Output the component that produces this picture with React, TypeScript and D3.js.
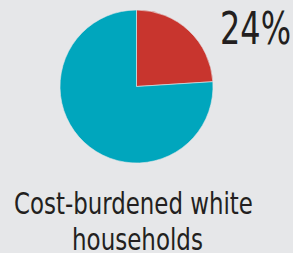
import React, { useLayoutEffect, useRef, useState } from 'react';
import * as d3 from 'd3';

const categories = ['Cost-burdened', 'Not cost-burdened'];
const shares = [24, 76];
const sliceColors = ['#c8352e', '#00a6bd'];
const valueLabel = '24%';
const captionLines = ['Cost-burdened white', 'households'];

const W = 293;
const H = 253;
const bg = '#e6e7e9';
const ink = '#231f20';
const font = '"DejaVu Sans Condensed", "DejaVu Sans", sans-serif';

// text boxes: left x, baseline y, wanted width, font size
const labels = [
    { text: valueLabel, x: 220, y: 44.3, width: 71, size: 44 },
    { text: captionLines[0], x: 14, y: 214, width: 239, size: 30 },
    { text: captionLines[1], x: 72, y: 250, width: 131, size: 30 },
];

const App = () => {
    const cx = 136.5;
    const cy = 86.5;
    const radius = 76.5;

    const refs = useRef<(SVGTextElement | null)[]>([]);
    const [scales, setScales] = useState<number[]>(labels.map(() => 1));

    useLayoutEffect(() => {
        setScales(labels.map((l, i) => {
            const el = refs.current[i];
            const len = el ? el.getComputedTextLength() : 0;
            return len > 0 ? l.width / len : 1;
        }));
    }, []);

    const pie = d3.pie<number>().sort(null).value(d => d);
    const arcs = pie(shares);
    const arc = d3.arc<d3.PieArcDatum<number>>().innerRadius(0).outerRadius(radius);

    return (
        <svg width={W} height={H} style={{ position: 'fixed', left: 0, top: 0, display: 'block' }}>
            <rect x={0} y={0} width={W} height={H} fill={bg} />
            <g transform={`translate(${cx},${cy})`}>
                {arcs.map((a, i) => (
                    <path
                        key={categories[i]}
                        d={arc(a) || ''}
                        fill={sliceColors[i]}
                        stroke={bg}
                        strokeWidth={0.6}
                    />
                ))}
            </g>
            {labels.map((l, i) => (
                <text
                    key={l.text}
                    ref={el => { refs.current[i] = el; }}
                    transform={`translate(${l.x},${l.y}) scale(${scales[i]},1)`}
                    fontFamily={font}
                    fontSize={l.size}
                    fill={ink}
                >
                    {l.text}
                </text>
            ))}
        </svg>
    );
};

export default App;
